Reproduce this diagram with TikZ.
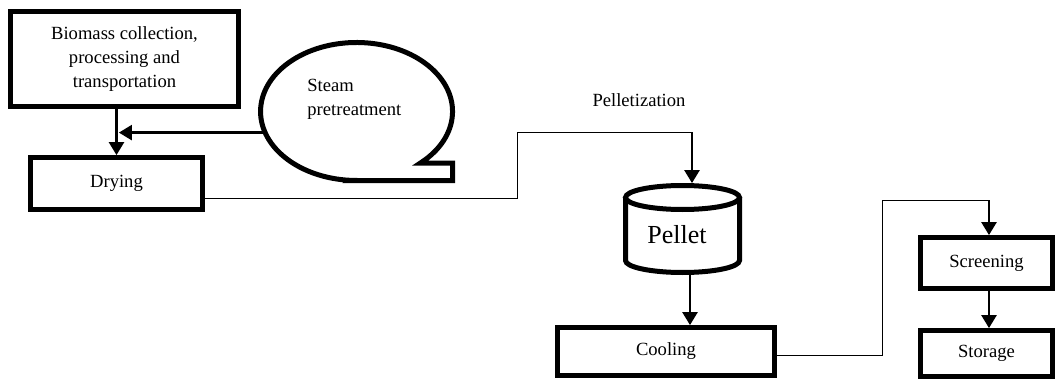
\documentclass[tikz,border=0pt]{standalone}
\usepackage{fontspec}
\setmainfont{Liberation Serif}
\usetikzlibrary{arrows.meta}
\usetikzlibrary{shapes.geometric}
\usetikzlibrary{calc}

\begin{document}
\begin{tikzpicture}[x=0.5pt, y=-0.5pt,
    procbox/.style={rectangle, draw=black, line width=2.5pt, inner sep=0pt, outer sep=0pt, align=center, font=\fontsize{9.3}{12.2}\selectfont},
    plain/.style={inner sep=0pt, font=\fontsize{9.3}{12.2}\selectfont},
    link/.style={draw=black, line width=0.5pt},
    flow/.style={draw=black, line width=1.25pt, shorten >=1.2pt, -{Triangle[width=7.5pt, length=6.5pt]}}]

      \useasboundingbox (0,0) rectangle (1056,380);

      % Biomass collection box
      \node[procbox, minimum width=114pt, minimum height=47.5pt] (biomass) at (124.5,59) {Biomass collection,\\processing and\\transportation};

      % Drying box
      \node[procbox, minimum width=86pt, minimum height=26pt] (drying) at (116.5,183.5) {Drying};

      % Steam pretreatment bubble (ellipse with a square tail)
      \node[ellipse, minimum width=96pt, minimum height=69pt, inner sep=0pt, outer sep=0pt] (steam) at (356.5,111.5) {};
      \draw[line width=2.5pt] ([shift={(0,69)}]steam.center) -- ++(96,0) -- ++(0,-17.5) -- ++(-32.1,0)
        arc[start angle=48.3, end angle=-270, x radius=96, y radius=69] -- cycle;
      \node[plain, align=left, anchor=west] (steamtext) at (307,99.5) {Steam\\pretreatment};

      % Pelletization label
      \node[plain] (pelletization) at (639,100) {Pelletization};

      % Pellet cylinder
      \draw[line width=2.5pt] (625.5,197.5) -- (625.5,260.5)
        arc[start angle=180, end angle=0, x radius=57, y radius=12] -- (739.5,197.5);
      \draw[line width=2.5pt] (682.5,197.5) ellipse[x radius=57, y radius=12];
      \node[inner sep=0pt, font=\fontsize{13}{15}\selectfont] (pellet) at (677,235) {Pellet};
      \coordinate (pelIn) at (692,185.5);
      \coordinate (pelOut) at (690,272.5);

      % Cooling, screening and storage boxes
      \node[procbox, minimum width=108.5pt, minimum height=24pt] (cooling) at (666,351.5) {Cooling};
      \node[procbox, minimum width=66pt, minimum height=25.5pt] (screening) at (986.5,263) {Screening};
      \node[procbox, minimum width=66pt, minimum height=23pt] (storage) at (986.5,353.5) {Storage};

      % Bends of the long connectors
      \coordinate (bend1) at (692,132);
      \coordinate (bend2) at (989,200);

      % Connectors
      \draw[flow] (drying.north |- biomass.south) -- (drying.north);
      \draw[flow] (steam.193) -- (steam.193 -| drying.north);
      \draw[link] ([yshift=-7.25pt]drying.east) -| (517,132) -- (bend1);
      \draw[flow] (bend1) -- (pelIn);
      \draw[flow] (pelOut) -- (pelOut |- cooling.north);
      \draw[link] ([yshift=-1.75pt]cooling.east) -| (882,200) -- (bend2);
      \draw[flow] (bend2) -- (bend2 |- screening.north);
      \draw[flow] (bend2 |- screening.south) -- (bend2 |- storage.north);

    \end{tikzpicture}
\end{document}
